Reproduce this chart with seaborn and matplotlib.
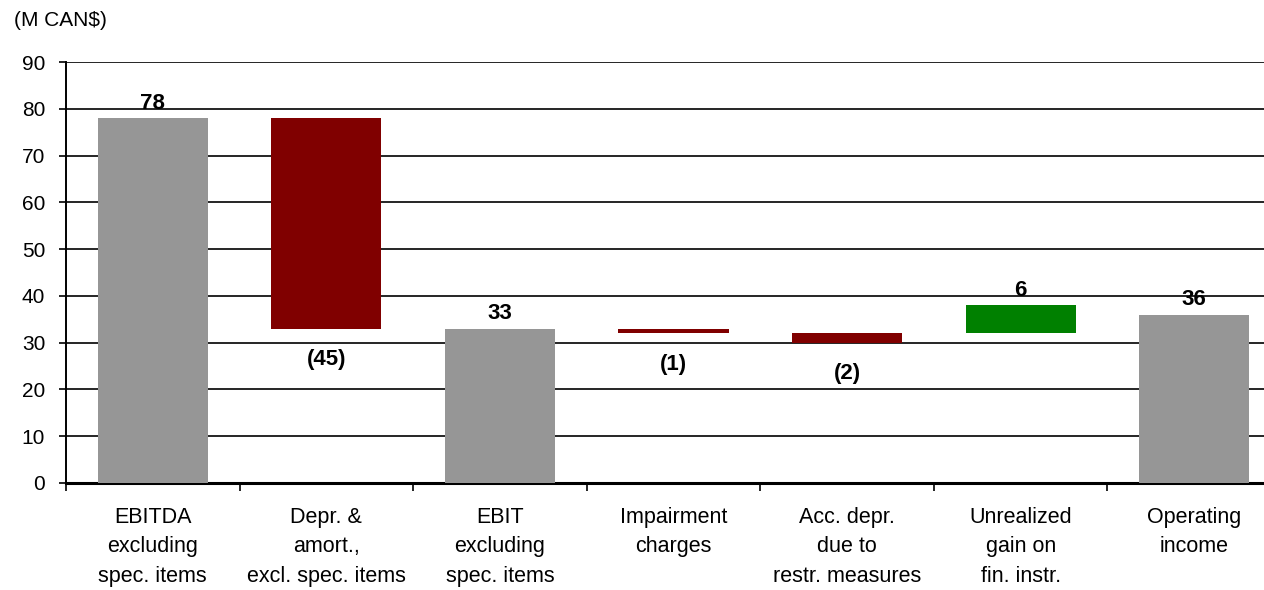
import matplotlib
matplotlib.use("Agg")
import matplotlib.pyplot as plt
import seaborn as sns
import numpy as np
import pandas as pd

# Operating income bridge (M CAN$)
categories = [
    "EBITDA\nexcluding\nspec. items",
    "Depr. &\namort.,\nexcl. spec. items",
    "EBIT\nexcluding\nspec. items",
    "Impairment\ncharges",
    "Acc. depr.\ndue to\nrestr. measures",
    "Unrealized\ngain on\nfin. instr.",
    "Operating\nincome",
]
values = [78, -45, 33, -1, -2, 6, 36]
bases = [0, 33, 0, 32, 30, 32, 0]
labels = ["78", "(45)", "33", "(1)", "(2)", "6", "36"]
kinds = ["total", "neg", "total", "neg", "neg", "pos", "total"]

colors = {"total": "#969696", "neg": "#800000", "pos": "#008000"}

sns.set_theme(style="white")
plt.rcParams["font.family"] = ["Liberation Sans", "DejaVu Sans"]

df = pd.DataFrame({
    "category": categories,
    "height": [abs(v) for v in values],
    "bottom": bases,
})

fig = plt.figure(figsize=(12.64, 5.90), dpi=100)
ax = fig.add_axes([66 / 1264, 107 / 590, 1215 / 1264, 421 / 590])

sns.barplot(data=df, x="category", y="height", order=categories,
            bottom=df["bottom"].to_numpy(), color="#969696", saturation=1,
            width=0.635, ax=ax, errorbar=None, zorder=3, linewidth=0)

for patch, kind in zip(ax.patches, kinds):
    patch.set_facecolor(colors[kind])
    patch.set_edgecolor("none")

# value labels
for i, (v, b, lab) in enumerate(zip(values, bases, labels)):
    if v >= 0:
        ax.annotate(lab, (i, b + v), xytext=(0, 3.0), textcoords="offset points",
                    ha="center", va="bottom", fontsize=16, fontweight="bold",
                    color="black", zorder=5)
    else:
        ax.annotate(lab, (i, b), xytext=(0, -15.0), textcoords="offset points",
                    ha="center", va="top", fontsize=16, fontweight="bold",
                    color="black", zorder=5)

ax.set_ylim(0, 90)
ax.set_xlim(-0.5, len(categories) - 0.5)
ax.set_yticks(np.arange(0, 91, 10))
ax.yaxis.grid(True, color="black", linewidth=1.2, zorder=1)
ax.set_axisbelow(True)

ax.set_xlabel("")
ax.set_ylabel("")

for side in ["top", "right"]:
    ax.spines[side].set_visible(False)
ax.spines["left"].set_color("black")
ax.spines["left"].set_linewidth(1.4)
ax.spines["bottom"].set_color("black")
ax.spines["bottom"].set_linewidth(2.2)

ax.tick_params(axis="y", which="major", direction="out", length=5, width=1.2,
               color="black", pad=10, labelsize=15, labelcolor="black", left=True)
ax.tick_params(axis="x", which="major", length=0, pad=17, labelsize=15.5,
               labelcolor="black")
ax.set_xticks(np.arange(-0.5, len(categories), 1.0), minor=True)
ax.tick_params(axis="x", which="minor", direction="out", length=6, width=1.2,
               color="black", bottom=True)
for t in ax.get_xticklabels():
    t.set_linespacing(1.55)

fig.text(14 / 1264, 1 - 20 / 590, "(M CAN$)", fontsize=15, ha="left",
         va="center", color="black")

fig.savefig("out.png", dpi=100)
